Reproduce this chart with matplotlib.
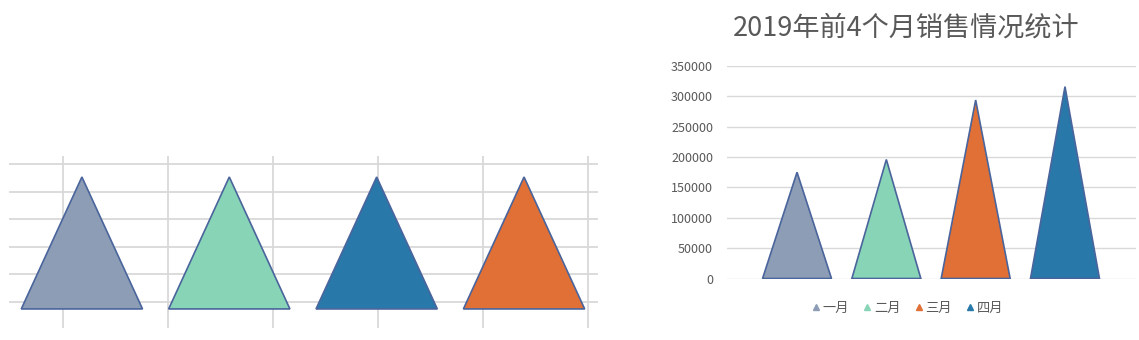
import matplotlib.pyplot as plt
from matplotlib.patches import Polygon
from matplotlib.lines import Line2D
import numpy as np

plt.rcParams['font.family'] = ['Noto Sans CJK SC', 'DejaVu Sans']

# right chart data
title = "2019年前4个月销售情况统计"
months = ["一月", "二月", "三月", "四月"]
sales = [175000, 196000, 294000, 316000]
month_colors = ["#8C9DB5", "#88D4B6", "#E07036", "#2878AA"]

# left picture: four equal triangles
left_heights = [4.53, 4.53, 4.53, 4.53]
left_colors = ["#8C9DB5", "#88D4B6", "#2878AA", "#E07036"]

edge = "#4A649C"
grid_c = "#D9D9D9"
text_c = "#595959"

W, H = 1139, 340
fig = plt.figure(figsize=(W / 100, H / 100), dpi=100)

def box(x0, y0, x1, y1):
    # pixel box -> figure fraction
    return [x0 / W, 1 - y1 / H, (x1 - x0) / W, (y1 - y0) / H]

# ---- left panel ----
axl = fig.add_axes(box(9, 156, 598, 328))
for s in axl.spines.values():
    s.set_visible(False)
axl.set_xlim(-0.515, 5.1)
axl.set_ylim(-0.94, 5.29)
axl.set_xticks(np.arange(6))
axl.set_yticks(np.arange(6))
axl.tick_params(length=0, labelbottom=False, labelleft=False)
axl.grid(True, color=grid_c, lw=1.3)
axl.set_axisbelow(True)
base = -0.25
half = 0.578
for i, (h, c) in enumerate(zip(left_heights, left_colors)):
    xc = 0.18 + i * 1.405
    tri = Polygon([[xc - half, base], [xc, h], [xc + half, base]],
                  closed=True, facecolor=c, edgecolor=edge, lw=1.2, zorder=3)
    axl.add_patch(tri)

# ---- right panel ----
axr = fig.add_axes(box(727, 66, 1136, 278.5))
for s in axr.spines.values():
    s.set_visible(False)
axr.set_ylim(0, 350000)
axr.set_xlim(-0.784, 3.795)
axr.set_yticks(np.arange(0, 350001, 50000))
axr.set_xticks([])
axr.tick_params(axis='y', length=0, labelsize=9, labelcolor=text_c, pad=10)
axr.grid(True, axis='y', color=grid_c, lw=1)
axr.set_axisbelow(True)
half_r = 0.386
for i, (v, c) in enumerate(zip(sales, month_colors)):
    tri = Polygon([[i - half_r, 0], [i, v], [i + half_r, 0]],
                  closed=True, facecolor=c, edgecolor=edge, lw=1.2, zorder=3)
    axr.add_patch(tri)

fig.text(906 / W, 1 - 28 / H, title, ha='center', va='center',
         fontsize=19.5, color=text_c)

handles = [Line2D([], [], ls='none', marker='^', markersize=5,
                  markerfacecolor=c, markeredgecolor=c) for c in month_colors]
fig.legend(handles, months, loc='center', bbox_to_anchor=(907 / W, 1 - 308 / H),
           ncol=4, frameon=False, fontsize=9.5, labelcolor=text_c,
           handlelength=0.8, handletextpad=0.1, columnspacing=1.0)

fig.savefig("out.png", dpi=100)
